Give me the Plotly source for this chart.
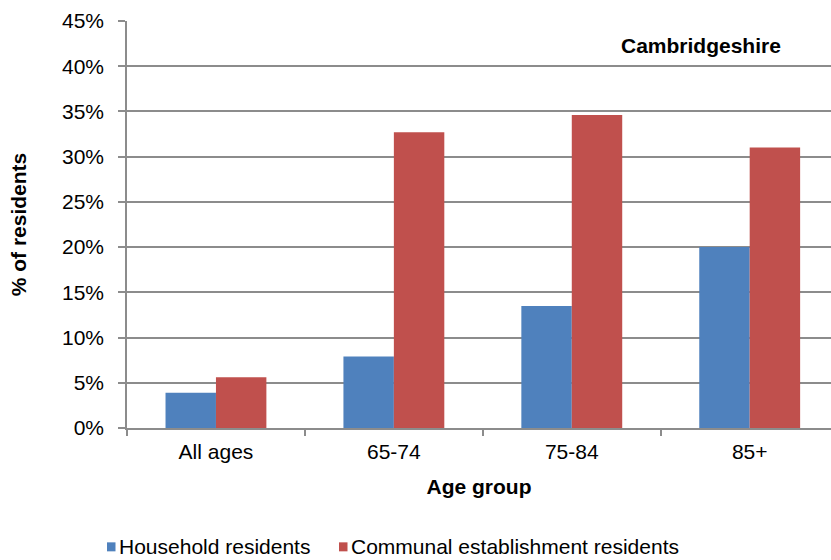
import plotly.graph_objects as go

categories = ["All ages", "65-74", "75-84", "85+"]
household = [3.9, 7.9, 13.5, 20.0]
communal = [5.6, 32.7, 34.6, 31.0]
series_names = ["Household residents", "Communal establishment residents"]
series_colors = ["#4f81bd", "#c0504d"]
y_ticks = [0, 5, 10, 15, 20, 25, 30, 35, 40, 45]
y_tick_labels = [f"{v}%" for v in y_ticks]

FONT = "Liberation Sans, Arial, sans-serif"
GRID = "#8c8c8c"
FS = 21
PLOT_W, PLOT_H = 704, 407

fig = go.Figure()
for name, vals, col in zip(series_names, [household, communal], series_colors):
    fig.add_trace(go.Bar(name=name, x=categories, y=vals,
                         marker=dict(color=col, line=dict(width=0)),
                         showlegend=False))

# Legend drawn below the plot: small square swatch followed by the series name
legend_x = [-20 / PLOT_W, 212 / PLOT_W]   # swatch left edge in paper units
legend_y = -0.292
shapes = []
annotations = []
sw_w = 8.5 / PLOT_W
sw_h = 9.0 / PLOT_H
for lx, name, col in zip(legend_x, series_names, series_colors):
    shapes.append(dict(type="rect", xref="paper", yref="paper",
                       x0=lx, x1=lx + sw_w, y0=legend_y - sw_h / 2, y1=legend_y + sw_h / 2,
                       fillcolor=col, line=dict(width=0)))
    annotations.append(dict(text=name, xref="paper", yref="paper",
                            x=lx + sw_w + 1 / PLOT_W, y=legend_y, xanchor="left", yanchor="middle",
                            showarrow=False, font=dict(size=FS)))

annotations.append(dict(text="<b>Cambridgeshire</b>", x=0.932, y=0.941,
                        xref="paper", yref="paper", xanchor="right", yanchor="middle",
                        showarrow=False, font=dict(size=FS)))

fig.update_layout(
    width=831, height=560,
    margin=dict(l=127, r=0, t=21, b=132),
    paper_bgcolor="white", plot_bgcolor="white",
    barmode="group", bargap=0.433, bargroupgap=0,
    font=dict(family=FONT, size=FS, color="black"),
    xaxis=dict(
        range=[-0.5, 3.457], tickson="boundaries", ticks="outside", ticklen=6,
        tickcolor=GRID, tickwidth=1.5, showline=True, linecolor=GRID, linewidth=1.5,
        showgrid=False, tickfont=dict(size=FS), ticklabelstandoff=4,
        title=dict(text="<b>Age group</b>", font=dict(size=FS), standoff=17),
    ),
    yaxis=dict(
        range=[0, 45], tickvals=y_ticks, ticktext=y_tick_labels,
        ticks="outside", ticklen=7, tickcolor=GRID, tickwidth=1.5,
        showline=True, linecolor=GRID, linewidth=1.5,
        showgrid=True, gridcolor=GRID, gridwidth=1.5, zeroline=False,
        tickfont=dict(size=FS), ticklabelstandoff=10,
        title=dict(text="<b>% of residents</b>", font=dict(size=FS), standoff=30),
    ),
    shapes=shapes,
    annotations=annotations,
)

fig.write_html("out.html")
